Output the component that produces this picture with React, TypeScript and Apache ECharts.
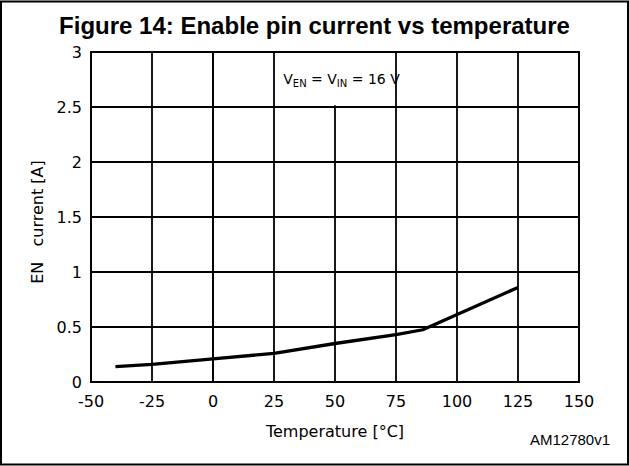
import React, { useEffect, useRef } from "react";
import * as echarts from "echarts";

const temperatures = [-40, -25, 0, 25, 50, 75, 86, 125];
const enCurrent = [0.14, 0.16, 0.21, 0.26, 0.35, 0.43, 0.475, 0.86];
const xTicks = [-50, -25, 0, 25, 50, 75, 100, 125, 150];
const yTicks = [0, 0.5, 1, 1.5, 2, 2.5, 3];
const titleText = "Figure 14: Enable pin current vs temperature";
const codeText = "AM12780v1";
const xName = "Temperature [°C]";
const yName = "EN   current [A]";

export default function App() {
  const ref = useRef<HTMLDivElement>(null);
  useEffect(() => {
    document.body.style.margin = "0";
    const chart = echarts.init(ref.current!, null, { renderer: "svg" });
    const axisFont = "DejaVu Sans, Verdana, sans-serif";
    chart.setOption({
      animation: false,
      backgroundColor: "#ffffff",
      title: {
        text: titleText,
        left: "center",
        top: 8,
        textStyle: {
          fontFamily: "Liberation Sans, Arial, sans-serif",
          fontWeight: "bold",
          fontSize: 24,
          color: "#000",
        },
      },
      graphic: [
        {
          type: "rect",
          shape: { x: 1, y: 1.5, width: 627, height: 463 },
          style: { fill: "none", stroke: "#000", lineWidth: 2 },
          silent: true,
        },
        {
          type: "text",
          right: 19,
          top: 432,
          style: {
            text: codeText,
            fontFamily: "Liberation Sans, Arial, sans-serif",
            fontSize: 15,
            fill: "#000",
          },
        },
      ],
      grid: {
        left: 91,
        right: 50,
        top: 52,
        bottom: 84,
        show: true,
        borderColor: "#000",
        borderWidth: 1.8,
      },
      xAxis: {
        type: "value",
        min: xTicks[0],
        max: xTicks[xTicks.length - 1],
        interval: 25,
        name: xName,
        nameLocation: "middle",
        nameGap: 41,
        nameTextStyle: { fontFamily: axisFont, fontSize: 16, color: "#000" },
        axisLine: { show: true, lineStyle: { color: "#000", width: 1.8 } },
        axisTick: { show: false },
        axisLabel: { fontFamily: axisFont, fontSize: 16, color: "#000", margin: 11 },
        splitLine: { show: true, lineStyle: { color: "#000", width: 1.8 } },
      },
      yAxis: {
        type: "value",
        min: yTicks[0],
        max: yTicks[yTicks.length - 1],
        interval: 0.5,
        name: yName,
        nameLocation: "middle",
        nameGap: 42,
        nameTextStyle: { fontFamily: axisFont, fontSize: 16, color: "#000", padding: [0, 10, 0, 0] },
        axisLine: { show: true, lineStyle: { color: "#000", width: 1.8 } },
        axisTick: { show: false },
        axisLabel: { fontFamily: axisFont, fontSize: 16, color: "#000", margin: 9 },
        splitLine: { show: true, lineStyle: { color: "#000", width: 1.8 } },
      },
      series: [
        {
          type: "line",
          data: temperatures.map((t, i) => [t, enCurrent[i]]),
          showSymbol: false,
          lineStyle: { color: "#000", width: 3.3 },
          z: 5,
          markArea: {
            silent: true,
            itemStyle: { color: "#ffffff", opacity: 1 },
            label: {
              show: true,
              position: "inside",
              padding: [0, 0, 0, 13],
              formatter: "{v|V}{s|EN}{v| = V}{s|IN}{v| = 16 V}",
              rich: {
                v: { fontFamily: axisFont, fontSize: 14, color: "#000" },
                s: { fontFamily: axisFont, fontSize: 10, color: "#000", verticalAlign: "bottom", padding: [9, 0, 0, 0] },
              },
            },
            data: [[{ coord: [25.6, 2.515] }, { coord: [74.4, 2.99] }]],
          },
        },
      ],
    });
    return () => chart.dispose();
  }, []);
  return <div ref={ref} style={{ width: 629, height: 466 }} />;
}
